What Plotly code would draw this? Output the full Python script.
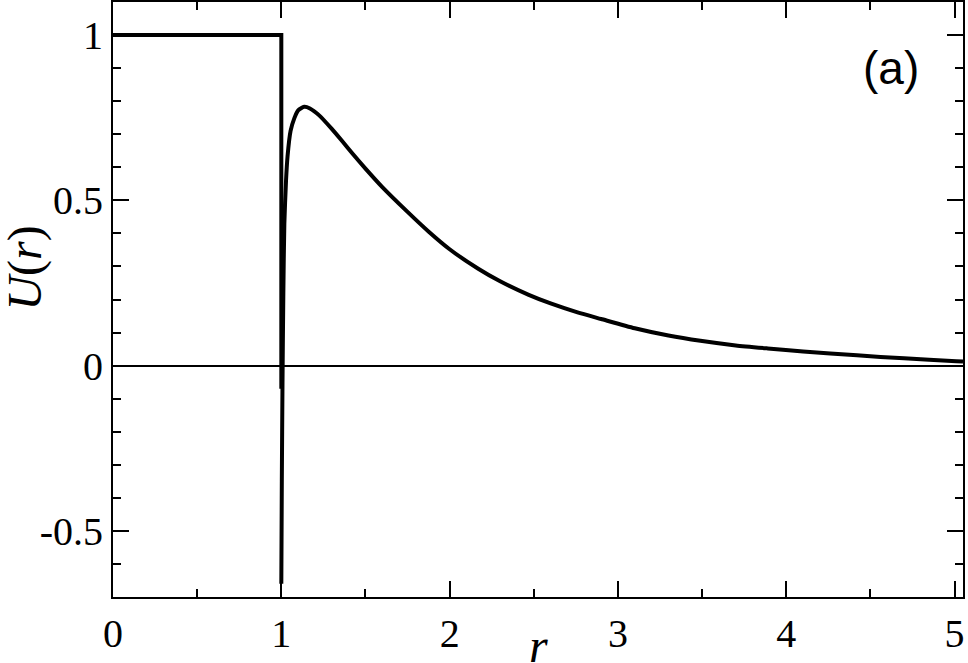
import plotly.graph_objects as go

# === Data ===
# flat core, U = 1 up to r = 1, then the drop at r = 1
core_r = [0.0, 1.0, 1.0]
core_u = [1.0, 1.0, -0.07]

# outer part of the potential, starting right at r = 1
pot_r = [1.0, 1.003, 1.007, 1.012, 1.018, 1.028, 1.037, 1.055, 1.077, 1.10,
         1.136, 1.17, 1.225, 1.3, 1.36, 1.42, 1.5, 1.6, 1.75, 1.876,
         2.0, 2.17, 2.3, 2.47, 2.6, 2.76, 2.9, 3.1, 3.3, 3.49,
         3.7, 3.89, 4.1, 4.42, 4.7, 5.01, 5.05]
pot_u = [-0.66, -0.35, -0.05, 0.22, 0.43, 0.56, 0.633, 0.71, 0.748, 0.772,
         0.783, 0.778, 0.757, 0.716, 0.680, 0.643, 0.596, 0.540, 0.465, 0.405,
         0.352, 0.293, 0.255, 0.214, 0.188, 0.161, 0.141, 0.113, 0.091, 0.075,
         0.061, 0.052, 0.043, 0.031, 0.022, 0.0135, 0.0125]

xticks = [0, 1, 2, 3, 4, 5]
yticks = [1, 0.5, 0, -0.5]
yticklabels = ["1", "0.5", "0", "-0.5"]

# === Figure ===
fig = go.Figure()

fig.add_trace(go.Scatter(
    x=core_r, y=core_u,
    mode="lines",
    line=dict(color="black", width=4),
    showlegend=False
))
fig.add_trace(go.Scatter(
    x=pot_r, y=pot_u,
    mode="lines",
    line=dict(color="black", width=4, shape="spline", smoothing=0.6),
    showlegend=False
))

# panel label
fig.add_annotation(
    x=0.915, y=0.889, xref="paper", yref="paper",
    xanchor="center", yanchor="middle",
    text="(a)", showarrow=False,
    font=dict(family="Liberation Sans", size=46, color="black")
)
# axis titles placed by hand (standoff is ignored without automargin)
fig.add_annotation(
    x=0.5, y=-0.082, xref="paper", yref="paper",
    xanchor="center", yanchor="middle",
    text="<i>r</i>", showarrow=False,
    font=dict(family="Liberation Serif", size=48, color="black")
)
fig.add_annotation(
    x=-0.104, y=0.553, xref="paper", yref="paper",
    xanchor="center", yanchor="middle", textangle=-90,
    text="<i>U</i>(<i>r</i>)", showarrow=False,
    font=dict(family="Liberation Serif", size=48, color="black")
)

# === Layout ===
fig.update_layout(
    width=968, height=663,
    margin=dict(l=113, r=5, t=2, b=66),
    paper_bgcolor="white",
    plot_bgcolor="white",
    font=dict(family="Liberation Serif", size=40, color="black"),
    showlegend=False
)

fig.update_xaxes(
    range=[0, 5.05],
    automargin=False,
    tickvals=xticks,
    ticks="inside", ticklen=16, tickwidth=2, tickcolor="black",
    minor=dict(dtick=0.5, ticks="inside", ticklen=8, tickwidth=2, tickcolor="black"),
    showline=True, linecolor="black", linewidth=2, mirror="ticks",
    showgrid=False, zeroline=False,
    tickfont=dict(size=40)
)

fig.update_yaxes(
    range=[-0.7, 1.1],
    automargin=False,
    tickvals=yticks, ticktext=yticklabels,
    ticks="inside", ticklen=16, tickwidth=2, tickcolor="black",
    minor=dict(dtick=0.1, ticks="inside", ticklen=8, tickwidth=2, tickcolor="black"),
    showline=True, linecolor="black", linewidth=2, mirror="ticks",
    showgrid=False,
    zeroline=True, zerolinecolor="black", zerolinewidth=1.5,
    tickfont=dict(size=40)
)

# page body has a default 8px margin; drop it so the figure sits at the corner
fig.write_html("out.html", config={"displayModeBar": False},
               post_script="document.body.style.margin='0';")
